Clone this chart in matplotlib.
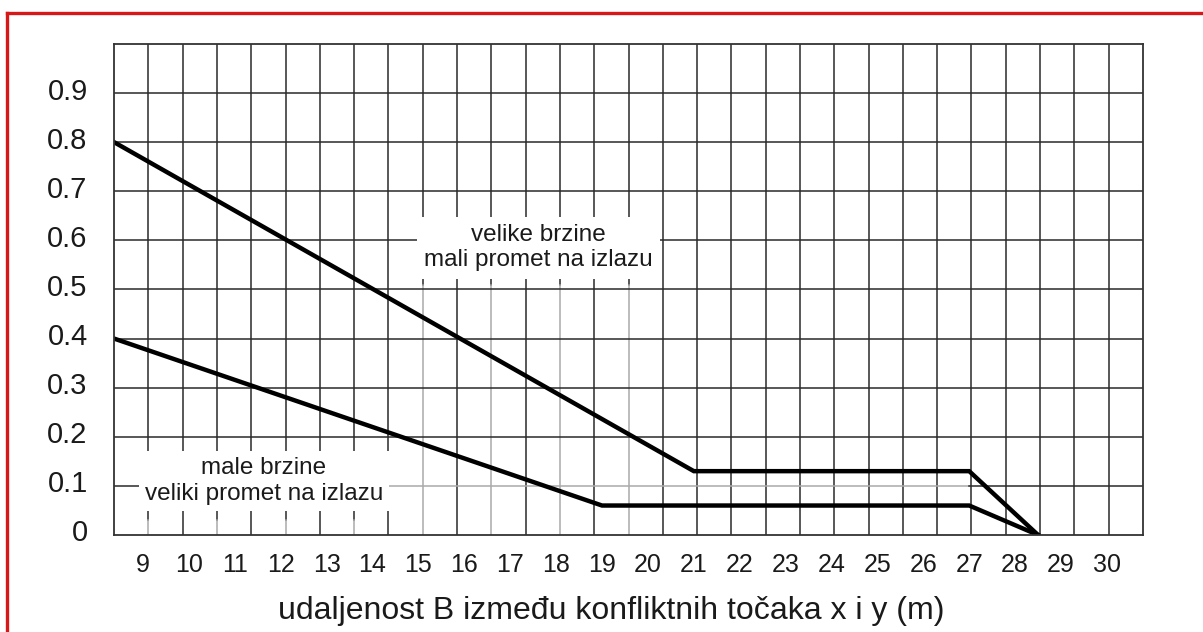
import numpy as np
import matplotlib
matplotlib.use("Agg")
import matplotlib.pyplot as plt
from matplotlib.lines import Line2D
from matplotlib.transforms import ScaledTranslation

plt.rcParams['font.family'] = ['Liberation Sans', 'DejaVu Sans']

# data
upper_x = [8.37, 21, 27, 28.5]
upper_y = [0.8, 0.13, 0.13, 0.0]
lower_x = [8.37, 19, 27, 28.5]
lower_y = [0.4, 0.06, 0.06, 0.0]

x_ticks = list(range(9, 31))
y_ticks = [0, 0.1, 0.2, 0.3, 0.4, 0.5, 0.6, 0.7, 0.8, 0.9]
y_labels = ['0', '0.1', '0.2', '0.3', '0.4', '0.5', '0.6', '0.7', '0.8', '0.9']

label_fast = "velike brzine\nmali promet na izlazu"
label_slow = "male brzine\nveliki promet na izlazu"
x_title = "udaljenost B između konfliktnih točaka x i y (m)"

fig = plt.figure(figsize=(12.03, 6.32), dpi=100)
ax = fig.add_axes([0.0948, 0.1535, 0.8553, 0.7769])

x0, x1 = 8.368, 30.786
ax.set_xlim(x0, x1)
ax.set_ylim(0, 1.0)

grid_col = '#2a2a2a'
gray_col = '#aaaaaa'
glw = 1.1

# vertical grid: 30 equal columns, not tied to the tick labels
vx = np.linspace(x0, x1, 31)
for k in range(1, 30):
    if k in (9, 11, 13, 15):
        ax.plot([vx[k], vx[k]], [0.51, 1.0], color=grid_col, lw=glw, zorder=1)
        ax.plot([vx[k], vx[k]], [0, 0.51], color=gray_col, lw=glw, zorder=1)
    elif k in (1, 3, 5, 7):
        ax.plot([vx[k], vx[k]], [0.03, 1.0], color=grid_col, lw=glw, zorder=1)
        ax.plot([vx[k], vx[k]], [0, 0.03], color=gray_col, lw=glw, zorder=1)
    else:
        ax.axvline(vx[k], color=grid_col, lw=glw, zorder=1)

# horizontal grid
for yv in y_ticks[1:]:
    if yv == 0.1:
        ax.plot([x0, 14.33], [yv, yv], color=grid_col, lw=glw, zorder=1)
        ax.plot([14.33, 27], [yv, yv], color=gray_col, lw=glw, zorder=1)
        ax.plot([27, x1], [yv, yv], color=grid_col, lw=glw, zorder=1)
    else:
        ax.axhline(yv, color=grid_col, lw=glw, zorder=1)

# curves
ax.plot(upper_x, upper_y, color='black', lw=3.2, zorder=4, solid_joinstyle='miter')
ax.plot(lower_x, lower_y, color='black', lw=3.2, zorder=4, solid_joinstyle='miter')

# region labels with white boxes that cut the grid
ax.text(17.62, 0.585, label_fast, ha='center', va='center', fontsize=17.5,
        color='#1a1a1a', linespacing=1.2, zorder=3,
        bbox=dict(boxstyle='square,pad=0.3', fc='white', ec='none'))
ax.text(11.63, 0.11, label_slow, ha='center', va='center', fontsize=17.5,
        color='#1a1a1a', linespacing=1.2, zorder=3,
        bbox=dict(boxstyle='square,pad=0.25', fc='white', ec='none'))

for s in ax.spines.values():
    s.set_color('#333333')
    s.set_linewidth(1.3)
    s.set_zorder(5)

ax.set_xticks(x_ticks)
ax.set_xticklabels([str(v) for v in x_ticks])
ax.set_yticks(y_ticks)
ax.set_yticklabels(y_labels)
ax.tick_params(axis='both', length=0)
ax.tick_params(axis='x', labelsize=18, pad=13, labelcolor='#1a1a1a')
ax.tick_params(axis='y', labelsize=21, pad=19, labelcolor='#1a1a1a')

shift = ScaledTranslation(0, 0.045, fig.dpi_scale_trans)
for lab in ax.get_yticklabels():
    lab.set_transform(lab.get_transform() + shift)

fig.text(611 / 1203, 1 - 611 / 632, x_title, ha='center', va='center',
         fontsize=23, color='#1a1a1a')

# red frame, cut off on the right and bottom
fig.add_artist(Line2D([7 / 1203, 7 / 1203], [0, 1 - 13 / 632], color='#d81818',
                      lw=2.4, transform=fig.transFigure))
fig.add_artist(Line2D([7 / 1203, 1], [1 - 13 / 632, 1 - 13 / 632], color='#d81818',
                      lw=2.4, transform=fig.transFigure))

fig.savefig('out.png', dpi=100)
